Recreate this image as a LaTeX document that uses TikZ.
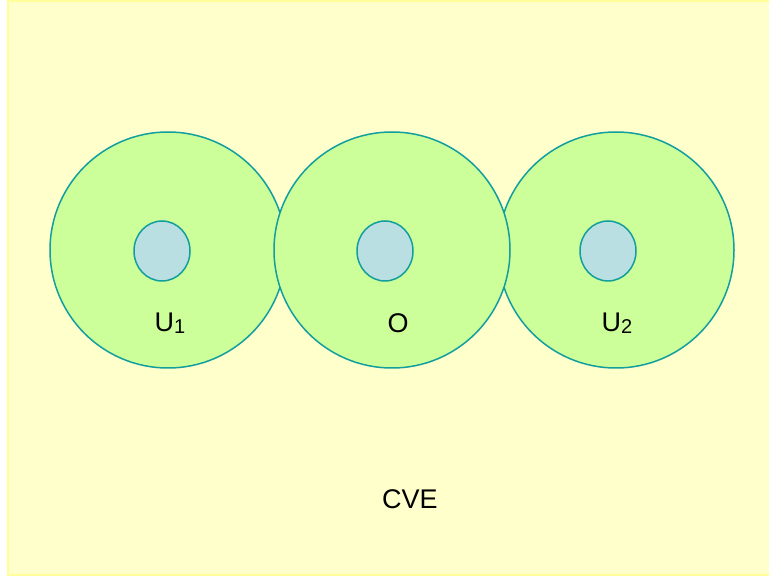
\documentclass[tikz,border=0pt]{standalone}
\usepackage{fontspec}
\setmainfont{Liberation Sans}
\usepackage{tikz}
\definecolor{bgyellow}{HTML}{FFFFCC}
\definecolor{edgeyellow}{HTML}{FFFF99}
\definecolor{zonegreen}{HTML}{CCFF99}
\definecolor{rimteal}{HTML}{139E9E}
\definecolor{coreblue}{HTML}{BADFE2}
\newcommand{\lowidx}[1]{\raisebox{-1.5pt}{\fontsize{20}{24}\selectfont #1}}
\tikzset{zone/.style={draw=rimteal,line width=1.5pt,fill=zonegreen},
  core/.style={draw=rimteal,line width=1.5pt,fill=coreblue}}

\begin{document}
\begin{tikzpicture}[x=1pt,y=-1pt,font=\fontsize{27}{32}\selectfont]
\useasboundingbox (0,0) rectangle (769,577);
\fill[white] (0,0) rectangle (769,577);
\draw[fill=bgyellow,draw=edgeyellow,line width=2pt] (8,1) rectangle (772,575);
% left and right zones, then the middle one on top
\draw[zone] (168,250) circle (118);\draw[core] (162,251) ellipse (28 and 30);
\draw[zone] (616,250) circle (118);\draw[core] (608,251) ellipse (28 and 30);
\draw[zone] (392,250) circle (118);\draw[core] (385,251) ellipse (28 and 30);
\node (u1) at (170,323) {U\lowidx{1}};
\node (o) at (398,323) {O};
\node (u2) at (617,323) {U\lowidx{2}};
\node (cve) at (410,499) {CVE};
\end{tikzpicture}
\end{document}
